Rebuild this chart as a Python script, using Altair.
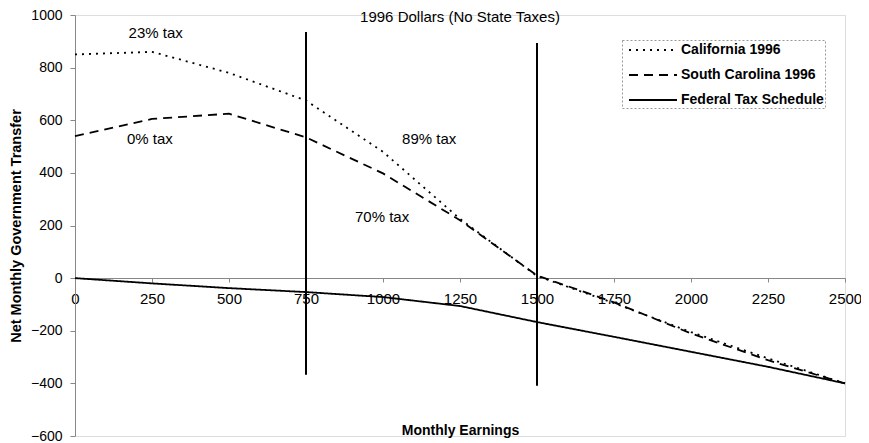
import altair as alt
import pandas as pd

earnings = [0, 250, 500, 750, 1000, 1250, 1500, 1750, 2000, 2250, 2500]
california = [850, 860, 780, 675, 480, 225, 8, -95, -205, -305, -400]
south_carolina = [540, 605, 625, 535, 398, 220, 10, -92, -210, -312, -400]
federal = [0, -20, -38, -53, -72, -106, -167, -223, -280, -337, -400]

series_names = ["California 1996", "South Carolina 1996", "Federal Tax Schedule"]

vline_x = [750, 1500]
vline_top = [935, 894]
vline_bottom = [-367, -409]

note_text = ["23% tax", "0% tax", "89% tax", "70% tax", "1996  Dollars (No State Taxes)"]
note_x = [262, 243, 1150, 997, 1250]
note_y = [932, 527, 527, 231, 992]

rows = []
for name, vals in zip(series_names, [california, south_carolina, federal]):
    for e, v in zip(earnings, vals):
        rows.append({"earnings": e, "transfer": v, "series": name})
df = pd.DataFrame(rows)
vdf = pd.DataFrame({"x": vline_x, "top": vline_top, "bottom": vline_bottom})
ndf = pd.DataFrame({"text": note_text, "x": note_x, "y": note_y})

FONT = "Liberation Sans"

xscale = alt.Scale(domain=[0, 2500], nice=False, zero=False)
yscale = alt.Scale(domain=[-600, 1000], nice=False, zero=False)

lines = alt.Chart(df).mark_line(color="black", strokeWidth=1.8).encode(
    x=alt.X("earnings:Q", scale=xscale,
            axis=alt.Axis(values=earnings, title="Monthly Earnings", offset=-158, format="d",
                          grid=False, labelFontSize=15, labelFont=FONT, labelColor="black",
                          domainColor="#888", tickColor="#888", tickSize=4, labelPadding=9,
                          titleFont=FONT, titleFontSize=14, titleFontWeight="bold",
                          titleY=145, titleBaseline="top", labelFlush=False)),
    y=alt.Y("transfer:Q", scale=yscale,
            axis=alt.Axis(values=list(range(-600, 1001, 200)), title="Net Monthly Government Transfer",
                          format="d",
                          grid=False, labelFontSize=14, labelFont=FONT, labelColor="black",
                          domainColor="#888", tickColor="#888", tickSize=5, labelPadding=8,
                          titleFont=FONT, titleFontSize=14.5, titleFontWeight="bold",
                          titleX=-59, titleBaseline="middle")),
    strokeDash=alt.StrokeDash("series:N",
                              scale=alt.Scale(domain=series_names, range=[[2, 5], [9, 6], [1, 0]]),
                              legend=alt.Legend(title=None, orient="none", legendX=547, legendY=25,
                                                symbolType="M-1,0L5,0", symbolSize=256,
                                                symbolOffset=5,
                                                symbolStrokeColor="black", symbolStrokeWidth=1.8,
                                                labelFont=FONT, labelFontSize=14, labelFontWeight="bold",
                                                labelColor="black", strokeColor="#999", padding=1,
                                                rowPadding=9, labelOffset=35, labelLimit=300)),
    detail="series:N",
)

vlines = alt.Chart(vdf).mark_rule(color="black", strokeWidth=2).encode(
    x="x:Q", y="top:Q", y2="bottom:Q"
)

notes = alt.Chart(ndf).mark_text(font=FONT, fontSize=15, color="black").encode(
    x="x:Q", y="y:Q", text="text:N"
)

chart = alt.layer(lines, vlines, notes).properties(
    width=770, height=421,
    autosize=alt.AutoSizeParams(type="none"),
    padding={"left": 67, "top": 7, "right": 16, "bottom": 7},
).configure_view(stroke=None).configure(background="white").configure_legend(strokeDash=[2, 2])

chart.save("out.html", embed_options={"renderer": "svg", "actions": False})
